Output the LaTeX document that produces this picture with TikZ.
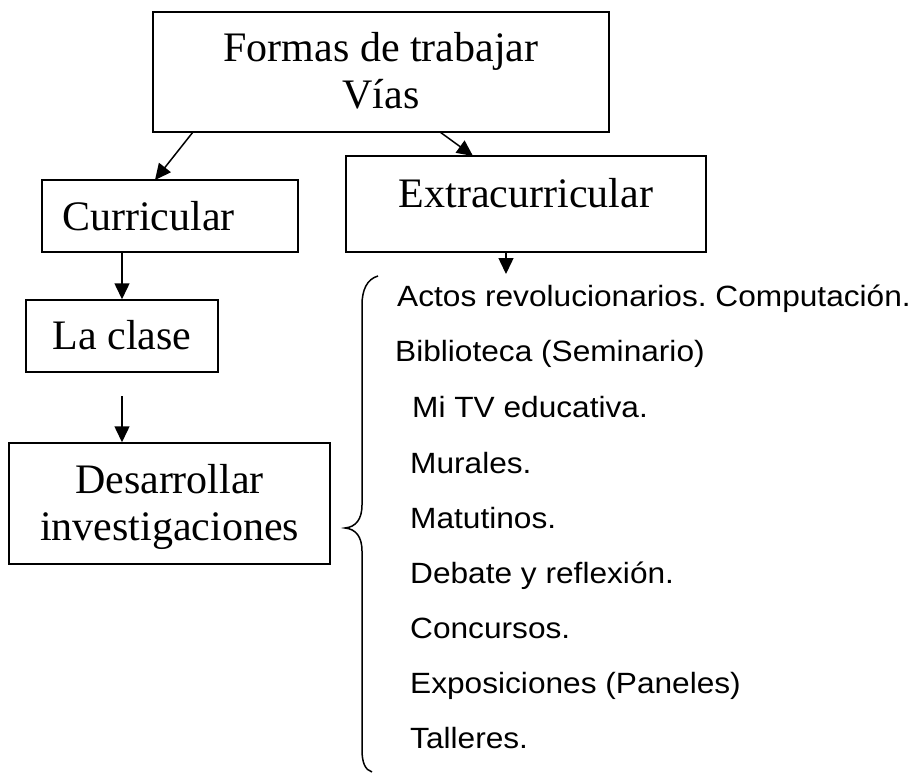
\documentclass[tikz,border=0pt]{standalone}
\usepackage{fontspec}
\setmainfont{Liberation Serif}
\newfontfamily\listfont[FakeStretch=1.08]{Liberation Sans}
\usetikzlibrary{arrows.meta}
\frenchspacing
\begin{document}
\begin{tikzpicture}[x=1pt,y=-1pt,
  box/.style={draw, line width=1.5pt, inner sep=0pt},
  big/.style={inner sep=0pt, font=\fontsize{42}{50}\selectfont},
  item/.style={inner sep=0pt, anchor=base west, font=\listfont\fontsize{29.3}{35}\selectfont\frenchspacing},
  arr/.style={-{Triangle[length=16pt,width=15pt]}, line width=1.5pt}]
\useasboundingbox (0,0) rectangle (919,774);
% boxes
\node[box, minimum width=456pt, minimum height=120pt] (top) at (381,72) {};
\node[box, minimum width=256pt, minimum height=72pt] (curr) at (170,216) {};
\node[box, minimum width=360pt, minimum height=96pt] (extra) at (526,204) {};
\node[box, minimum width=192pt, minimum height=72pt] (clase) at (122,336) {};
\node[box, minimum width=321pt, minimum height=121pt] (desa) at (169.5,503.5) {};
% box texts
\node[big, anchor=base] (t1) at (381,61) {Formas de trabajar};
\node[big, anchor=base] (t2) at (381,108) {Vías};
\node[big, anchor=base west] (t3) at (62,230) {Curricular};
\node[big, anchor=base] (t4) at (526,207) {Extracurricular};
\node[big, anchor=base] (t5) at (122,349) {La clase};
\node[big, anchor=base] (t6) at (169.5,493) {Desarrollar};
\node[big, anchor=base] (t7) at (169.5,540) {investigaciones};
% list
\node[item] (l1) at (397,306) {Actos revolucionarios. Computación.};
\node[item] (l2) at (395,361) {Biblioteca (Seminario)};
\node[item] (l3) at (412,417) {Mi TV educativa.};
\node[item] (l4) at (410,473) {Murales.};
\node[item] (l5) at (410,528) {Matutinos.};
\node[item] (l6) at (410,583) {Debate y reflexión.};
\node[item] (l7) at (410,638) {Concursos.};
\node[item] (l8) at (410,693) {Exposiciones (Paneles)};
\node[item] (l9) at (410,748) {Talleres.};
% connectors
\coordinate (a1s) at (193,132);
\coordinate (a1e) at (155,180);
\coordinate (a2s) at (440,132);
\coordinate (a2e) at (473,156);
\coordinate (c4) at (122,396);
\coordinate (listtop) at (506,274);
\draw[arr] (a1s) -- (a1e);
\draw[arr] (a2s) -- (a2e);
\draw[arr] (curr.south -| clase.north) -- (clase.north);
\draw[arr] (c4) -- (c4 |- desa.north);
\draw[arr] (extra.south -| listtop) -- (listtop);
% brace
\draw[line width=1.5pt] (378,276) .. controls (367,279) and (362,290) .. (362,305)
  -- (362,505) .. controls (362,519) and (356,527) .. (345,528)
  .. controls (356,529) and (362,537) .. (362,551)
  -- (362,750) .. controls (362,762) and (365,770) .. (372,772);
\end{tikzpicture}
\end{document}
